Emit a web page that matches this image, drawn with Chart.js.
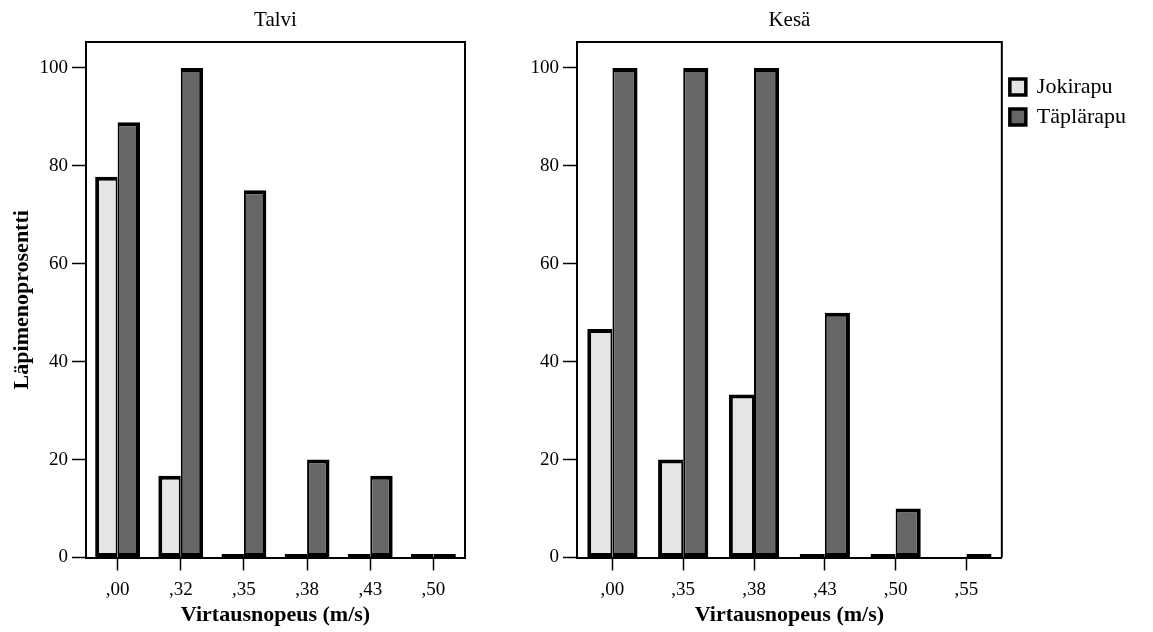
<!DOCTYPE html>
<html>
<head>
<meta charset="utf-8">
<script src="https://cdn.jsdelivr.net/npm/chart.js@4.4.1/dist/chart.umd.min.js"></script>
<style>
html,body{margin:0;padding:0;background:#fff;}
#wrap{position:relative;width:1153px;height:632px;overflow:hidden;background:#fff;}
canvas{position:absolute;top:0;}
#c1{left:0;}
#c2{left:480px;}
</style>
</head>
<body>
<div id="wrap">
<canvas id="c1" width="480" height="632"></canvas>
<canvas id="c2" width="673" height="632"></canvas>
</div>
<script>
// ---- data ----
const seriesNames = ['Jokirapu', 'Täplärapu'];
const talviCategories = [',00', ',32', ',35', ',38', ',43', ',50'];
const talviJokirapu = [77.8, 16.7, 0, 0, 0, 0];
const talviTaplarapu = [88.9, 100, 75, 20, 16.7, 0];
const kesaCategories = [',00', ',35', ',38', ',43', ',50', ',55'];
const kesaJokirapu = [46.7, 20, 33.3, 0, 0, null];
const kesaTaplarapu = [100, 100, 100, 50, 10, 0];
const yTickValues = [0, 20, 40, 60, 80, 100];
const yMax = 105.3;
const panelTitles = ['Talvi', 'Kesä'];
const xTitle = 'Virtausnopeus (m/s)';
const yTitle = 'Läpimenoprosentti';

// ---- styles ----
const FONT = "'Liberation Serif', 'Times New Roman', Times, serif";
Chart.defaults.font.family = FONT;
Chart.defaults.color = '#000';
const LIGHT = '#e5e5e5';
const DARK = '#666666';

const framePlugin = {
  id: 'frame',
  beforeDatasetsDraw(chart) {
    const a = chart.chartArea, ctx = chart.ctx;
    ctx.save();
    ctx.strokeStyle = '#000';
    ctx.lineWidth = 2;
    ctx.beginPath();
    ctx.moveTo(a.left, a.top);
    ctx.lineTo(a.right, a.top);
    ctx.lineTo(a.right, a.bottom);
    ctx.stroke();
    ctx.restore();
  }
};

function makeDatasets(j, t) {
  return [
    {
      label: seriesNames[0], data: j,
      backgroundColor: LIGHT, borderColor: '#000',
      borderWidth: {top: 4, left: 4, bottom: 4, right: 2},
      borderSkipped: false, minBarLength: 3.5,
      categoryPercentage: 0.71, barPercentage: 1
    },
    {
      label: seriesNames[1], data: t,
      backgroundColor: DARK, borderColor: '#000',
      borderWidth: {top: 4, left: 2, bottom: 4, right: 4},
      borderSkipped: false, minBarLength: 3.5,
      categoryPercentage: 0.71, barPercentage: 1
    }
  ];
}

function makeOptions(title, yWidth, showYTitle, padRight, showLegend) {
  return {
    responsive: false,
    animation: false,
    layout: {padding: {left: 0, right: padRight, top: 0, bottom: 0}},
    plugins: {
      title: {
        display: true, text: title, fullSize: false,
        font: {size: 21, weight: 'normal'}, color: '#000',
        padding: {top: 8, bottom: 8.8}
      },
      legend: {
        display: showLegend,
        position: 'right',
        align: 'start',
        title: {display: true, text: ' ', font: {size: 10}, padding: {top: 56, bottom: 0}},
        labels: {
          boxWidth: 16, boxHeight: 16, padding: 8,
          font: {size: 22}, color: '#000'
        }
      },
      tooltip: {enabled: false}
    },
    scales: {
      x: {
        type: 'category',
        offset: true,
        grid: {
          offset: false, drawOnChartArea: false, drawTicks: true,
          tickLength: 13, tickWidth: 1.5, tickColor: '#000', color: '#000'
        },
        border: {display: true, color: '#000', width: 2},
        ticks: {font: {size: 19}, color: '#000', padding: 8, maxRotation: 0, autoSkip: false},
        title: {
          display: true, text: xTitle, color: '#000',
          font: {size: 22, weight: 'bold'}, padding: {top: 0, bottom: 3}
        },
        afterFit(scale) { scale.height = 74.5; }
      },
      y: {
        min: 0, max: yMax,
        grid: {
          drawOnChartArea: false, drawTicks: true,
          tickLength: 14, tickWidth: 1.5, tickColor: '#000', color: '#000'
        },
        border: {display: true, color: '#000', width: 2},
        ticks: {
          stepSize: 20, includeBounds: false, font: {size: 19}, color: '#000', padding: 4,
          callback: (v) => (yTickValues.includes(v) ? String(v) : null)
        },
        title: {
          display: showYTitle, text: yTitle, color: '#000',
          font: {size: 22, weight: 'bold'}, padding: {top: 9, bottom: 0}
        },
        afterFit(scale) { scale.width = yWidth; }
      }
    }
  };
}

new Chart(document.getElementById('c1'), {
  type: 'bar',
  data: {labels: talviCategories, datasets: makeDatasets(talviJokirapu, talviTaplarapu)},
  options: makeOptions(panelTitles[0], 86, true, 15, false),
  plugins: [framePlugin]
});

new Chart(document.getElementById('c2'), {
  type: 'bar',
  data: {labels: kesaCategories, datasets: makeDatasets(kesaJokirapu, kesaTaplarapu)},
  options: makeOptions(panelTitles[1], 97, false, 17, true),
  plugins: [framePlugin]
});
</script>
</body>
</html>
